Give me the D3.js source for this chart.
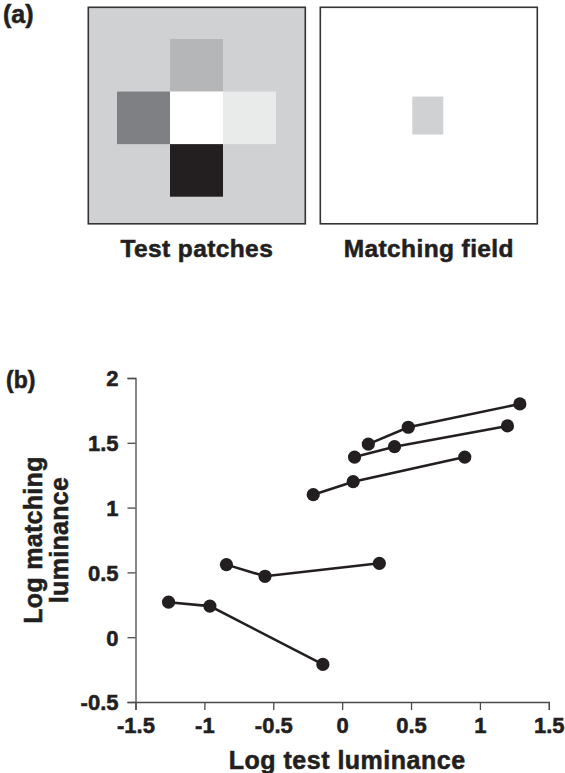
<!DOCTYPE html>
<html>
<head>
<meta charset="utf-8">
<script src="https://cdn.jsdelivr.net/npm/d3@7"></script>
<style>
  html, body { margin: 0; padding: 0; background: #fff; }
  svg { display: block; }
  text { font-family: "Liberation Sans", Arial, Helvetica, sans-serif; font-weight: bold; fill: #231f20;
         stroke: #231f20; stroke-width: 0.55px; paint-order: stroke; }
</style>
</head>
<body>
<svg id="chart" width="565" height="773"></svg>
<script>
// Panel (a): test patches arranged in a cross on a grey surround
const patchNames = ["top", "left", "centre", "right", "bottom"];
const patchCols = [0, -1, 0, 1, 0];
const patchRows = [-1, 0, 0, 0, 1];
const patchGreys = ["#b5b6b8", "#7f8083", "#ffffff", "#e9eaea", "#231f20"];
const surroundGrey = "#d0d1d3";
const matchGrey = "#d0d1d3";
const panelLabels = ["Test patches", "Matching field"];

// Panel (b): log matching luminance vs log test luminance, one polyline per set
const seriesNames = ["s1", "s2", "s3", "s4", "s5"];
const testLum = [
  [-1.26, -0.96, -0.14],
  [-0.84, -0.56, 0.27],
  [-0.21, 0.08, 0.89],
  [0.09, 0.38, 1.20],
  [0.19, 0.48, 1.29]
];
const matchLum = [
  [0.27, 0.24, -0.21],
  [0.56, 0.47, 0.57],
  [1.10, 1.20, 1.39],
  [1.39, 1.47, 1.63],
  [1.49, 1.62, 1.80]
];
const xTicks = [-1.5, -1, -0.5, 0, 0.5, 1, 1.5];
const yTicks = [-0.5, 0, 0.5, 1, 1.5, 2];
const xTitle = "Log test luminance";
const yTitleLines = ["Log matching", "luminance"];

const ink = "#231f20";
const svg = d3.select("#chart");

// ---------- panel (a) ----------
svg.append("text").attr("x", 3).attr("y", 23).style("font-size", "25px").text("(a)");

const boxW = 217, boxH = 216.5, boxTop = 7.3;
const boxes = [{ x: 88.3, fill: surroundGrey }, { x: 320.3, fill: "#ffffff" }];
svg.selectAll("rect.box").data(boxes).join("rect")
  .attr("class", "box")
  .attr("x", d => d.x).attr("y", boxTop)
  .attr("width", boxW).attr("height", boxH)
  .attr("fill", d => d.fill)
  .attr("stroke", "#333335").attr("stroke-width", 1.6);

const g = d3.scaleLinear().domain([-1.5, 1.5]).range([117, 276]);
const gy = d3.scaleLinear().domain([-1.5, 1.5]).range([39, 196.7]);
const cell = g(0.5) - g(-0.5);
svg.selectAll("rect.patch").data(patchNames).join("rect")
  .attr("class", "patch")
  .attr("x", (d, i) => g(patchCols[i] - 0.5))
  .attr("y", (d, i) => gy(patchRows[i] - 0.5))
  .attr("width", cell).attr("height", gy(0.5) - gy(-0.5))
  .attr("fill", (d, i) => patchGreys[i]);

// matching patch in the centre of the right field
const mw = 31, mh = 38;
svg.append("rect")
  .attr("x", boxes[1].x + boxW / 2 - mw / 2 - 1)
  .attr("y", boxTop + boxH / 2 - mh / 2)
  .attr("width", mw).attr("height", mh)
  .attr("fill", matchGrey);

svg.selectAll("text.plabel").data(panelLabels).join("text")
  .attr("class", "plabel")
  .attr("x", (d, i) => boxes[i].x + boxW / 2)
  .attr("y", 257)
  .attr("text-anchor", "middle")
  .style("font-size", "24.5px")
  .style("letter-spacing", "0.4px")
  .text(d => d);

// ---------- panel (b) ----------
svg.append("text").attr("x", 6).attr("y", 388).style("font-size", "23px").text("(b)");

const x = d3.scaleLinear().domain([-1.5, 1.5]).range([135.5, 548.8]);
const y = d3.scaleLinear().domain([-0.5, 2]).range([702, 378]);
const fmt = d => String(d);

const xAxis = svg.append("g")
  .attr("transform", `translate(0,${y(-0.5)})`)
  .call(d3.axisBottom(x).tickValues(xTicks).tickFormat(fmt).tickSize(8).tickPadding(7));
const yAxis = svg.append("g")
  .attr("transform", `translate(${x(-1.5)},0)`)
  .call(d3.axisLeft(y).tickValues(yTicks).tickFormat(fmt).tickSize(8).tickPadding(9));

[xAxis, yAxis].forEach(ax => {
  ax.select(".domain").attr("stroke", "#4a4a4c").attr("stroke-width", 1.3);
  ax.selectAll(".tick line").attr("stroke", "#4a4a4c").attr("stroke-width", 1.3);
  ax.selectAll(".tick text")
    .attr("fill", ink)
    .style("font-family", "'Liberation Sans', Arial, sans-serif")
    .style("font-weight", "bold")
    .style("font-size", "22px");
});
yAxis.selectAll(".tick text").attr("dy", "0.36em");

const line = d3.line().x(d => x(d[0])).y(d => y(d[1]));
const series = seriesNames.map((n, i) => testLum[i].map((t, j) => [t, matchLum[i][j]]));

svg.selectAll("path.set").data(series).join("path")
  .attr("class", "set")
  .attr("d", line)
  .attr("fill", "none")
  .attr("stroke", ink)
  .attr("stroke-width", 2.6);

svg.selectAll("g.pts").data(series).join("g")
  .attr("class", "pts")
  .selectAll("circle").data(d => d).join("circle")
  .attr("cx", d => x(d[0])).attr("cy", d => y(d[1]))
  .attr("r", 6.6)
  .attr("fill", ink);

// axis titles
svg.append("text")
  .attr("x", (x(-1.5) + x(1.5)) / 2 + 5)
  .attr("y", 769)
  .attr("text-anchor", "middle")
  .style("font-size", "25px")
  .style("letter-spacing", "0.5px")
  .text(xTitle);

const yMid = (y(-0.5) + y(2)) / 2;
svg.selectAll("text.ytitle").data(yTitleLines).join("text")
  .attr("class", "ytitle")
  .attr("text-anchor", "middle")
  .attr("transform", (d, i) => `translate(${[42, 68][i]},${yMid}) rotate(-90)`)
  .style("font-size", "25px")
  .style("letter-spacing", "0.3px")
  .text(d => d);
</script>
</body>
</html>
